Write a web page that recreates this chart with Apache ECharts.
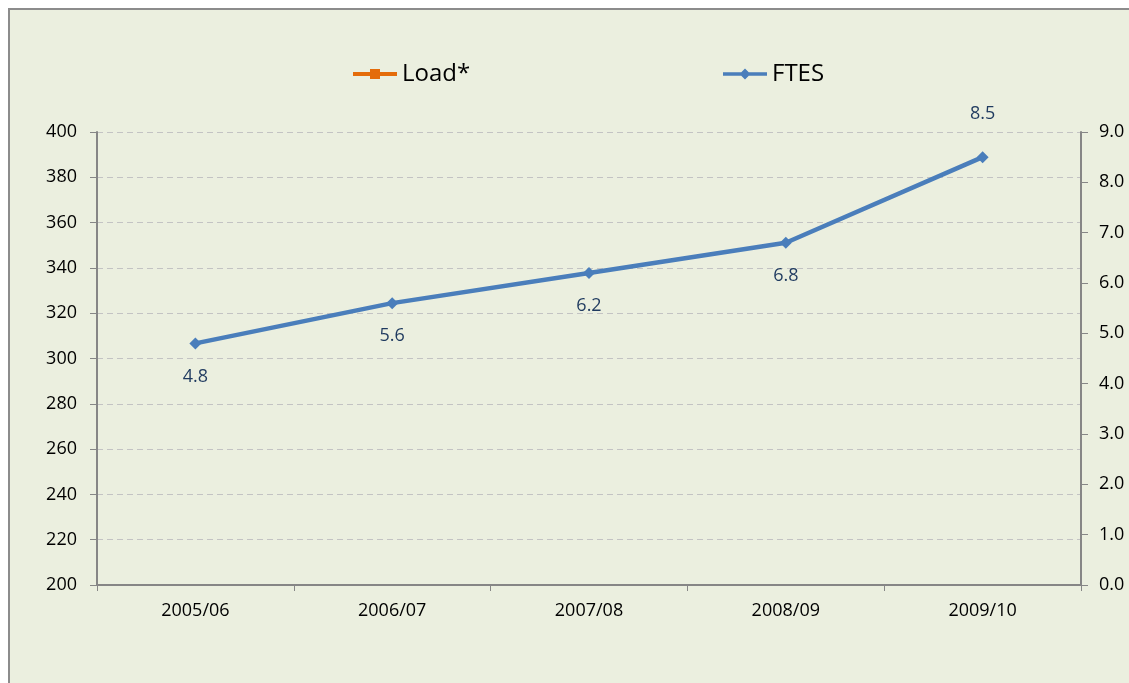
<!DOCTYPE html>
<html>
<head>
<meta charset="utf-8">
<script src="https://cdn.jsdelivr.net/npm/echarts@6/dist/echarts.min.js"></script>
<style>
html,body{margin:0;padding:0;background:#fff;}
#chart{width:1129px;height:683px;}
</style>
</head>
<body>
<div id="chart"></div>
<script>
const categories = ['2005/06', '2006/07', '2007/08', '2008/09', '2009/10'];
const loadValues = [null, null, null, null, null];
const ftesValues = [4.8, 5.6, 6.2, 6.8, 8.5];
const leftTicks = {min: 200, max: 400, interval: 20};
const rightTicks = {min: 0, max: 9, interval: 1};

const chart = echarts.init(document.getElementById('chart'));
const FONT = 'Open Sans';
const axisColor = '#868686';

const ftesData = ftesValues.map((v, i) => ({
  value: v,
  label: (i === ftesValues.length - 1)
    ? {position: 'top', distance: 28}
    : {position: 'bottom', distance: 18}
}));

const loadIcon = 'path://M0,4H44V8H0Z M17,1H27V11H17Z';
const ftesIcon = 'path://M0,4.2H44V7.8H0Z M22,0.5L27.5,6L22,11.5L16.5,6Z';

chart.setOption({
  animation: false,
  graphic: [{
    type: 'rect',
    z: -10,
    silent: true,
    shape: {x: 9, y: 9, width: 1200, height: 800},
    style: {fill: '#EBEFDF', stroke: '#8C8C8C', lineWidth: 2}
  }],
  grid: {left: 97, right: 48, top: 132, bottom: 98, containLabel: false},
  legend: [{
    left: 353, top: 62, padding: 0,
    itemWidth: 44, itemHeight: 12, itemGap: 4,
    textStyle: {fontFamily: FONT, fontSize: 24, color: '#000'},
    data: [{name: 'Load*', icon: loadIcon, itemStyle: {borderWidth: 0, color: '#E46C0A'}}]
  }, {
    left: 723, top: 62, padding: 0,
    itemWidth: 44, itemHeight: 12, itemGap: 4,
    textStyle: {fontFamily: FONT, fontSize: 24, color: '#000'},
    data: [{name: 'FTES', icon: ftesIcon, itemStyle: {borderWidth: 0}}]
  }],
  xAxis: {
    type: 'category',
    data: categories,
    boundaryGap: true,
    axisLine: {lineStyle: {color: axisColor, width: 2}},
    axisTick: {show: true, alignWithLabel: false, length: 6, lineStyle: {color: axisColor, width: 1}},
    axisLabel: {fontFamily: FONT, fontSize: 18, color: '#000', margin: 17},
    splitLine: {show: false}
  },
  yAxis: [{
    type: 'value',
    position: 'left',
    min: leftTicks.min, max: leftTicks.max, interval: leftTicks.interval,
    axisLine: {show: true, lineStyle: {color: axisColor, width: 2}},
    axisTick: {show: true, length: 7, lineStyle: {color: axisColor, width: 1}},
    axisLabel: {fontFamily: FONT, fontSize: 18, color: '#000', margin: 20},
    splitLine: {show: true, lineStyle: {color: '#C3C3C3', type: [6, 4], width: 1}}
  }, {
    type: 'value',
    position: 'right',
    min: rightTicks.min, max: rightTicks.max, interval: rightTicks.interval,
    axisLine: {show: true, lineStyle: {color: axisColor, width: 2}},
    axisTick: {show: true, length: 7, lineStyle: {color: axisColor, width: 1}},
    axisLabel: {fontFamily: FONT, fontSize: 18, color: '#000', margin: 18,
      formatter: v => v.toFixed(1)},
    splitLine: {show: false}
  }],
  series: [{
    name: 'Load*',
    type: 'line',
    yAxisIndex: 0,
    data: loadValues,
    symbol: 'rect',
    symbolSize: 10,
    lineStyle: {color: '#E46C0A', width: 4},
    itemStyle: {color: '#E46C0A', borderColor: '#C0504D', borderWidth: 1}
  }, {
    name: 'FTES',
    type: 'line',
    yAxisIndex: 1,
    data: ftesData,
    symbol: 'diamond',
    symbolSize: 12,
    lineStyle: {color: '#4A7EBB', width: 4.5},
    itemStyle: {color: '#4A7EBB'},
    label: {show: true, fontFamily: FONT, fontSize: 18, color: '#1F3A5F',
      formatter: p => p.value.toFixed(1)}
  }]
});
</script>
</body>
</html>
